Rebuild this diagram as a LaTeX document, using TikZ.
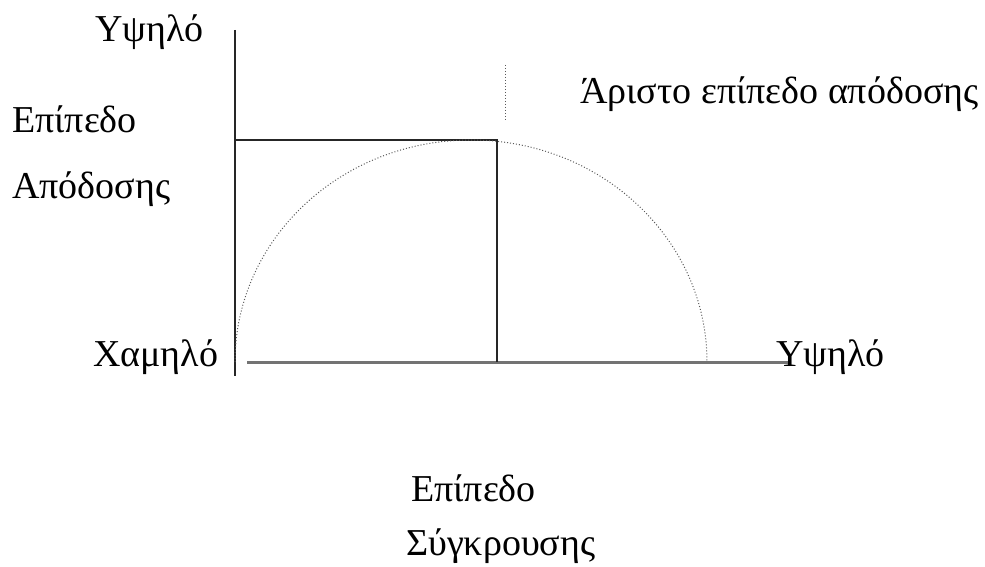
\documentclass[tikz,border=0pt]{standalone}
\usepackage{fontspec}
\setmainfont{Liberation Serif}
\begin{document}
\begin{tikzpicture}[x=1pt,y=-1pt,
  lbl/.style={inner sep=0pt, font=\fontsize{38}{44}\selectfont, anchor=base west},
  axisv/.style={draw=black!85, line width=2pt},
  axish/.style={draw=black!55, line width=3pt},
  boxline/.style={draw=black!85, line width=2pt},
  dotline/.style={draw=black!65, line width=1pt, dotted}]
\useasboundingbox (0,0) rectangle (985,567);
% coordinates
\coordinate (vtop) at (235,30);
\coordinate (vbot) at (235,376);
\coordinate (hleft) at (247,362);
\coordinate (hright) at (790,362);
\coordinate (rtl) at (235,140);
\coordinate (rtr) at (497,140);
\coordinate (rbr) at (497,362);
\coordinate (dtop) at (505,65);
\coordinate (dbot) at (505,120);
\coordinate (arcs) at (235,362);
% axes
\draw[axisv] (vtop) -- (vbot);
\draw[axish] (hleft) -- (hright);
% box
\draw[boxline] (rtl) -- (rtr) -- (rbr);
% optimum marker
\draw[dotline] (dtop) -- (dbot);
% arc
\draw[dotline] (arcs) arc[start angle=180, end angle=0, x radius=236, y radius=-222];
% labels
\node[lbl] (yhigh) at (95,42) {Υψηλό};
\node[lbl] (ep1) at (12,133) {Επίπεδο};
\node[lbl] (apo) at (12,198) {Απόδοσης};
\node[lbl] (best) at (580,104) {Άριστο επίπεδο απόδοσης};
\node[lbl] (low) at (93,366) {Χαμηλό};
\node[lbl] (xhigh) at (776,366) {Υψηλό};
\node[lbl] (ep2) at (411,501) {Επίπεδο};
\node[lbl] (syg) at (406,555) {Σύγκρουσης};
\end{tikzpicture}
\end{document}
